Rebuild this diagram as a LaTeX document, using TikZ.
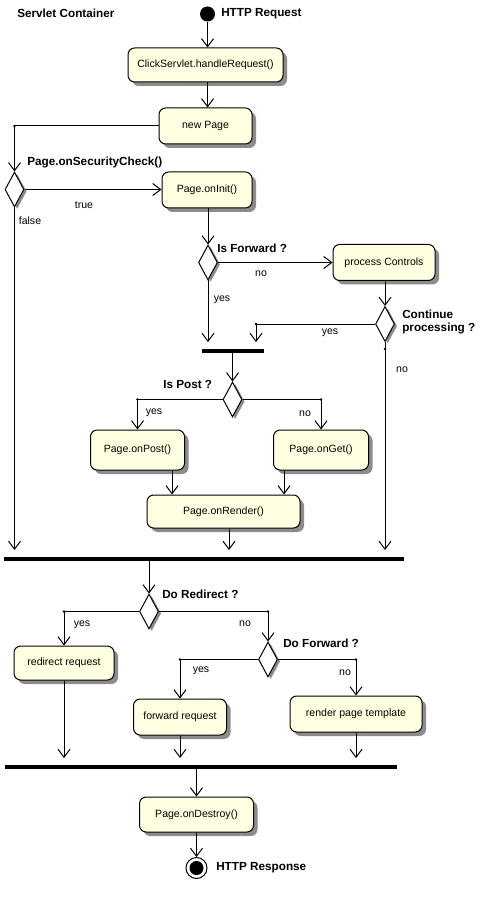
\documentclass[tikz,border=0pt]{standalone}
\usepackage{fontspec}
\setmainfont{Liberation Sans}
\usetikzlibrary{arrows.meta,shapes.geometric,shadows}
\definecolor{boxfill}{HTML}{FFFFE1}
\definecolor{shade}{HTML}{8C8C8C}
\begin{document}
\begin{tikzpicture}[x=0.75pt,y=-0.75pt,
  sz/.style 2 args={minimum width=#1*0.75pt, minimum height=#2*0.75pt},
  act/.style={draw, line width=0.75pt, rounded corners=5pt, fill=boxfill, inner sep=0pt,
    font=\fontsize{7.9}{9}\selectfont,
    drop shadow={shadow xshift=3pt, shadow yshift=-3pt, fill=shade, opacity=1}},
  dec/.style={draw, diamond, line width=0.75pt, fill=white, inner sep=0pt,
    minimum width=19*0.75pt, minimum height=35*0.75pt,
    drop shadow={shadow xshift=2pt, shadow yshift=-1.5pt, fill=shade, opacity=1}},
  bar/.style={fill=black, inner sep=0pt, minimum height=3pt},
  arr/.style={line width=0.75pt, -{Straight Barb[length=6pt,width=9pt,line width=0.75pt]}},
  tobar/.style={arr, shorten >=5pt},
  ln/.style={line width=0.75pt},
  lbl/.style={font=\fontsize{7.9}{9}\selectfont, inner sep=0pt},
  blbl/.style={font=\bfseries\fontsize{8.8}{9.75}\selectfont, inner sep=0pt, anchor=west},
  jdot/.style={circle, fill=black, inner sep=0pt, minimum size=2.2pt},
]
\fill[white] (0,0) rectangle (487,898);
\useasboundingbox (0,0) rectangle (487,898);

% start / end
\node[circle, fill=black, inner sep=0pt, minimum size=15*0.75pt] (start) at (207.5,14) {};
\node[blbl] (tstart) at (221,14) {HTTP Request};
\node[blbl] (title) at (17,13) {Servlet Container};

% activities
\node[act, sz={155}{34}] (click) at (205.5,65) {ClickServlet.handleRequest()};
\node[act, sz={93}{36}] (newpage) at (205.5,126) {new Page};
\node[act, sz={90}{36}] (oninit) at (207,190) {Page.onInit()};
\node[act, sz={102}{36}] (proc) at (384,262.5) {process Controls};
\node[act, sz={94}{40}] (onpost) at (137.5,450) {Page.onPost()};
\node[act, sz={95}{40}] (onget) at (321,450) {Page.onGet()};
\node[act, sz={153}{33}] (onrender) at (223.5,511.5) {Page.onRender()};
\node[act, sz={100}{34}] (redirect) at (64,663) {redirect request};
\node[act, sz={93}{36}] (fwdreq) at (180,717) {forward request};
\node[act, sz={132}{36}] (render) at (356,714) {render page template};
\node[act, sz={114}{35}] (destroy) at (196.5,814.5) {Page.onDestroy()};

% decisions
\node[dec] (sec) at (14.5,189.5) {};
\node[dec] (fwd) at (208,262.5) {};
\node[dec] (cont) at (385,324) {};
\node[dec] (post) at (232.5,399.5) {};
\node[dec] (redir) at (149,611.5) {};
\node[dec] (dofwd) at (268,659.5) {};

% bars
\node[bar, minimum width=62*0.75pt] (bar1) at (232.5,351) {};
\node[bar, minimum width=400*0.75pt] (bar2) at (204,559) {};
\node[bar, minimum width=392*0.75pt] (bar3) at (201,767) {};

% end
\node[circle, draw, line width=0.75pt, fill=white, inner sep=0pt, minimum size=21*0.75pt] (endc) at (196.5,868) {};
\node[circle, fill=black, inner sep=0pt, minimum size=14*0.75pt] (endin) at (endc) {};
\node[blbl] (tend) at (216,868) {HTTP Response};

% bold labels
\node[blbl] (tsec) at (27,162) {Page.onSecurityCheck()};
\node[blbl] (tfwd) at (217,248) {Is Forward ?};
\node[blbl, align=left] (tcont) at (402,321.5) {Continue\\processing ?};
\node[blbl] (tpost) at (163,384) {Is Post ?};
\node[blbl] (tredir) at (162,594) {Do Redirect ?};
\node[blbl] (tdofwd) at (283,643) {Do Forward ?};

% helper coordinates
\coordinate (xa) at (172,0);
\coordinate (xb) at (284,0);
\coordinate (xc) at (229,0);

% junction dots
\node[jdot] (d1) at (14.5,126) {};
\node[jdot] (d2) at (256,324) {};
\node[jdot] (d3) at (385,349) {};
\node[jdot] (d4) at (137.5,399.5) {};
\node[jdot] (d5) at (321,399.5) {};
\node[jdot] (d6) at (64,611.5) {};
\node[jdot] (d7) at (268,611.5) {};
\node[jdot] (d8) at (180,659.5) {};
\node[jdot] (d9) at (356,659.5) {};

% connectors
\draw[arr] (start.south) -- (start |- click.north);
\draw[arr] (click.south -| start) -- (start |- newpage.north);
\draw[arr] (newpage.west) -| (sec.north);
\draw[arr] (sec.east) -- (sec.east -| oninit.west);
\draw[tobar] (sec.south) -- (sec.south |- bar2.north);
\draw[arr] (oninit.south -| fwd.north) -- (fwd.north);
\draw[arr] (fwd.east) -- (fwd.east -| proc.west);
\draw[tobar] (fwd.south) -- (fwd.south |- bar1.north);
\draw[arr] (proc.south -| cont.north) -- (cont.north);
\draw[tobar] (cont.west) -| (d2 |- bar1.north);
\draw[tobar] (cont.south) -- (cont.south |- bar2.north);
\draw[arr] (bar1.south -| post.north) -- (post.north);
\draw[arr] (post.west) -| (onpost.north);
\draw[arr] (post.east) -| (onget.north);
\draw[arr] (onpost.south -| xa) -- (xa |- onrender.north);
\draw[arr] (onget.south -| xb) -- (xb |- onrender.north);
\draw[tobar] (onrender.south -| xc) -- (xc |- bar2.north);
\draw[arr] (redir.north |- bar2.south) -- (redir.north);
\draw[arr] (redir.west) -| (redirect.north);
\draw[arr] (redir.east) -| (dofwd.north);
\draw[arr] (dofwd.west) -| (fwdreq.north);
\draw[arr] (dofwd.east) -| (render.north);
\draw[tobar] (redirect.south) -- (redirect.south |- bar3.north);
\draw[tobar] (fwdreq.south) -- (fwdreq.south |- bar3.north);
\draw[tobar] (render.south) -- (render.south |- bar3.north);
\draw[arr] (destroy.north |- bar3.south) -- (destroy.north);
\draw[arr] (destroy.south) -- (endc.north);

% small labels
\node[lbl] (l1) at (84,205) {true};
\node[lbl] (l2) at (30,221) {false};
\node[lbl] (l3) at (261,274) {no};
\node[lbl] (l4) at (222,300) {yes};
\node[lbl] (l5) at (330,333) {yes};
\node[lbl] (l6) at (402,370) {no};
\node[lbl] (l7) at (154,413) {yes};
\node[lbl] (l8) at (305,414) {no};
\node[lbl] (l9) at (82,625) {yes};
\node[lbl] (l10) at (245,624) {no};
\node[lbl] (l11) at (201,671) {yes};
\node[lbl] (l12) at (345,673) {no};
\end{tikzpicture}
\end{document}
